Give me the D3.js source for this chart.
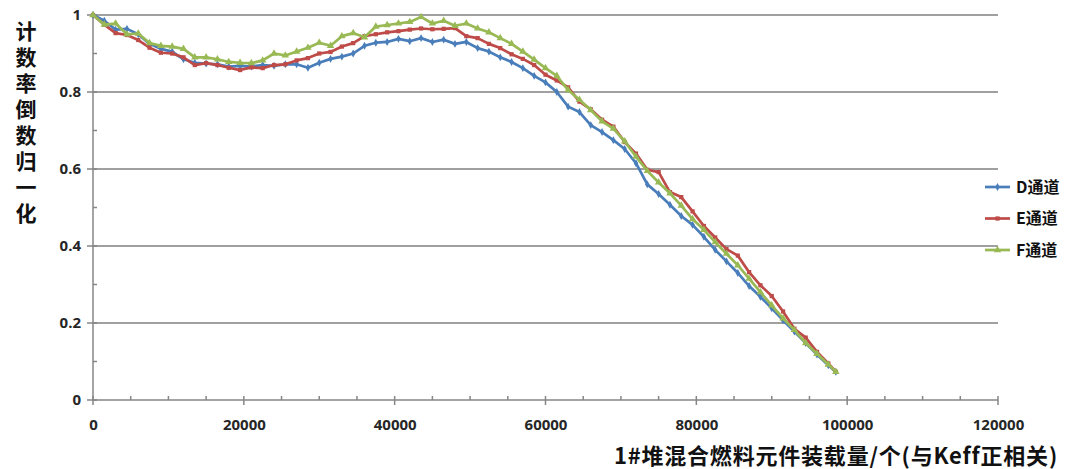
<!DOCTYPE html>
<head>
<meta charset="utf-8">
<style>
body {
  margin: 0;
  background: #fff;
  font-family: "Open Sans", "Noto Sans CJK SC", sans-serif;
}
.tick text {
  font: bold 15px "Open Sans", "Noto Sans CJK SC", sans-serif;
  fill: #262626;
}
.grid line {
  stroke: #a0a0a0;
  stroke-width: 2px;
}
.series {
  fill: none;
  stroke-width: 2.7px;
  stroke-linejoin: round;
}
.title {
  font: bold 21px "Noto Sans CJK SC", sans-serif;
  fill: #111;
}
.legend text {
  font: bold 16px "Noto Sans CJK SC", sans-serif;
  fill: #111;
}
</style>
</head>
<body>
<script src="https://cdn.jsdelivr.net/npm/d3@7/dist/d3.min.js"></script>
<script>
// loading count (x) and normalised inverse count rate for channels D, E, F
var loads = [0, 1500, 3000, 4500, 6000, 7500, 9000, 10500, 12000, 13500,
  15000, 16500, 18000, 19500, 21000, 22500, 24000, 25500, 27000, 28500,
  30000, 31500, 33000, 34500, 36000, 37500, 39000, 40500, 42000, 43500,
  45000, 46500, 48000, 49500, 51000, 52500, 54000, 55500, 57000, 58500,
  60000, 61500, 63000, 64500, 66000, 67500, 69000, 70500, 72000, 73500,
  75000, 76500, 78000, 79500, 81000, 82500, 84000, 85500, 87000, 88500,
  90000, 91500, 93000, 94500, 96000, 97500, 98500];

var chD = [1.0, 0.985, 0.962, 0.964, 0.95, 0.925, 0.912, 0.905, 0.885, 0.876,
  0.874, 0.872, 0.866, 0.868, 0.866, 0.87, 0.868, 0.872, 0.872, 0.863,
  0.876, 0.886, 0.892, 0.9, 0.92, 0.928, 0.93, 0.938, 0.932, 0.94,
  0.93, 0.936, 0.925, 0.93, 0.914, 0.905, 0.89, 0.878, 0.862, 0.842,
  0.825, 0.8, 0.762, 0.748, 0.714, 0.696, 0.675, 0.652, 0.615, 0.56,
  0.535, 0.507, 0.478, 0.455, 0.424, 0.39, 0.36, 0.33, 0.296, 0.268,
  0.238, 0.207, 0.178, 0.148, 0.118, 0.09, 0.073];

var chE = [1.0, 0.975, 0.953, 0.948, 0.935, 0.915, 0.902, 0.9, 0.89, 0.87,
  0.875, 0.87, 0.863, 0.857, 0.864, 0.862, 0.87, 0.872, 0.882, 0.888,
  0.9, 0.904, 0.918, 0.927, 0.945, 0.95, 0.955, 0.958, 0.962, 0.965,
  0.963, 0.964, 0.966, 0.945, 0.94, 0.925, 0.914, 0.898, 0.886, 0.87,
  0.845, 0.83, 0.812, 0.775, 0.755, 0.728, 0.71, 0.67, 0.64, 0.598,
  0.592, 0.54, 0.527, 0.49, 0.452, 0.422, 0.392, 0.375, 0.332, 0.298,
  0.27, 0.23, 0.185, 0.162, 0.125, 0.095, 0.073];

var chF = [1.0, 0.975, 0.978, 0.95, 0.952, 0.927, 0.92, 0.918, 0.912, 0.89,
  0.89, 0.885, 0.878, 0.876, 0.875, 0.882, 0.9, 0.895, 0.905, 0.915,
  0.928, 0.92, 0.945, 0.953, 0.942, 0.97, 0.974, 0.978, 0.982, 0.995,
  0.978, 0.985, 0.972, 0.978, 0.965, 0.955, 0.94, 0.925, 0.905, 0.884,
  0.862, 0.842, 0.805, 0.78, 0.753, 0.724, 0.705, 0.672, 0.632, 0.595,
  0.565, 0.537, 0.505, 0.47, 0.442, 0.41, 0.38, 0.35, 0.315, 0.28,
  0.246, 0.212, 0.182, 0.148, 0.12, 0.092, 0.073];

var seriesNames = ["D通道", "E通道", "F通道"];
var seriesColors = ["#4a7ebb", "#be4b48", "#98b954"];
var xTicks = [0, 20000, 40000, 60000, 80000, 100000, 120000];
var yTicks = [0, 0.2, 0.4, 0.6, 0.8, 1];
var yLabels = ["0", "0.2", "0.4", "0.6", "0.8", "1"];
var yTitle = "计数率倒数归一化";
var xTitle = "1#堆混合燃料元件装载量/个(与Keff正相关)";

var W = 1076, H = 469;
var x = d3.scaleLinear().domain([0, 120000]).range([93, 998]);
var y = d3.scaleLinear().domain([0, 1]).range([400, 15]);

var svg = d3.select("body").append("svg")
  .attr("width", W).attr("height", H);

// gridlines
svg.append("g").attr("class", "grid")
  .selectAll("line").data(yTicks.filter(function(d) { return d > 0; }))
  .enter().append("line")
  .attr("x1", x(0)).attr("x2", x(120000))
  .attr("y1", function(d) { return y(d); })
  .attr("y2", function(d) { return y(d); });

// axis lines, major and minor ticks
var ax = svg.append("g").attr("stroke", "#868686").attr("stroke-width", 1.5);
ax.append("line").attr("x1", x(0)).attr("x2", x(120000)).attr("y1", y(0)).attr("y2", y(0));
ax.append("line").attr("x1", x(0)).attr("x2", x(0)).attr("y1", y(0)).attr("y2", y(1));

var xMinor = d3.range(0, 120001, 5000);
ax.selectAll(".xt").data(xMinor).enter().append("line")
  .attr("x1", function(d) { return x(d); }).attr("x2", function(d) { return x(d); })
  .attr("y1", y(0) - 4)
  .attr("y2", function(d) { return d % 20000 === 0 ? y(0) + 5 : y(0); });

var yMinor = d3.range(0, 11).map(function(i) { return i / 10; });
ax.selectAll(".yt").data(yMinor).enter().append("line")
  .attr("y1", function(d) { return y(d); }).attr("y2", function(d) { return y(d); })
  .attr("x1", function(d) { return Math.round(d * 10) % 2 === 0 ? x(0) - 6 : x(0); })
  .attr("x2", x(0) + 4);

// tick labels
svg.append("g")
  .attr("transform", "translate(0," + y(0) + ")")
  .call(d3.axisBottom(x).tickValues(xTicks).tickFormat(d3.format("d")).tickSize(0).tickPadding(19))
  .call(function(g) { g.select(".domain").remove(); });

svg.append("g")
  .attr("transform", "translate(" + x(0) + ",0)")
  .call(d3.axisLeft(y).tickValues(yTicks).tickFormat(function(d, i) { return yLabels[i]; }).tickSize(0).tickPadding(12))
  .call(function(g) { g.select(".domain").remove(); });

// series
var data = [chD, chE, chF];
var line = d3.line()
  .x(function(d, i) { return x(loads[i]); })
  .y(function(d) { return y(d); });

var symbols = [d3.symbolDiamond, d3.symbolSquare, d3.symbolTriangle];
var symSizes = [18, 18, 24];

data.forEach(function(s, k) {
  svg.append("path").attr("class", "series")
    .attr("stroke", seriesColors[k])
    .attr("d", line(s));
  svg.append("g").selectAll("path").data(s).enter().append("path")
    .attr("transform", function(d, i) { return "translate(" + x(loads[i]) + "," + y(d) + ")"; })
    .attr("d", d3.symbol().type(symbols[k]).size(symSizes[k]))
    .attr("fill", seriesColors[k]);
});

// legend
var lg = svg.append("g").attr("class", "legend");
seriesNames.forEach(function(n, k) {
  var ly = 187 + k * 31.5;
  lg.append("line").attr("x1", 985).attr("x2", 1010).attr("y1", ly).attr("y2", ly)
    .attr("stroke", seriesColors[k]).attr("stroke-width", 2.7);
  lg.append("path").attr("transform", "translate(997.5," + ly + ")")
    .attr("d", d3.symbol().type(symbols[k]).size(symSizes[k]))
    .attr("fill", seriesColors[k]);
  lg.append("text").attr("x", 1016).attr("y", ly).attr("dy", "0.36em").text(n);
});

// axis titles
svg.append("text").attr("class", "title")
  .attr("x", 26).attr("y", 21)
  .style("writing-mode", "vertical-rl")
  .style("letter-spacing", "5px")
  .text(yTitle);
svg.append("text").attr("class", "title")
  .attr("x", 1058).attr("y", 464).attr("text-anchor", "end")
  .style("font-size", "22px")
  .style("letter-spacing", "0.8px")
  .text(xTitle);
</script>
</body>
